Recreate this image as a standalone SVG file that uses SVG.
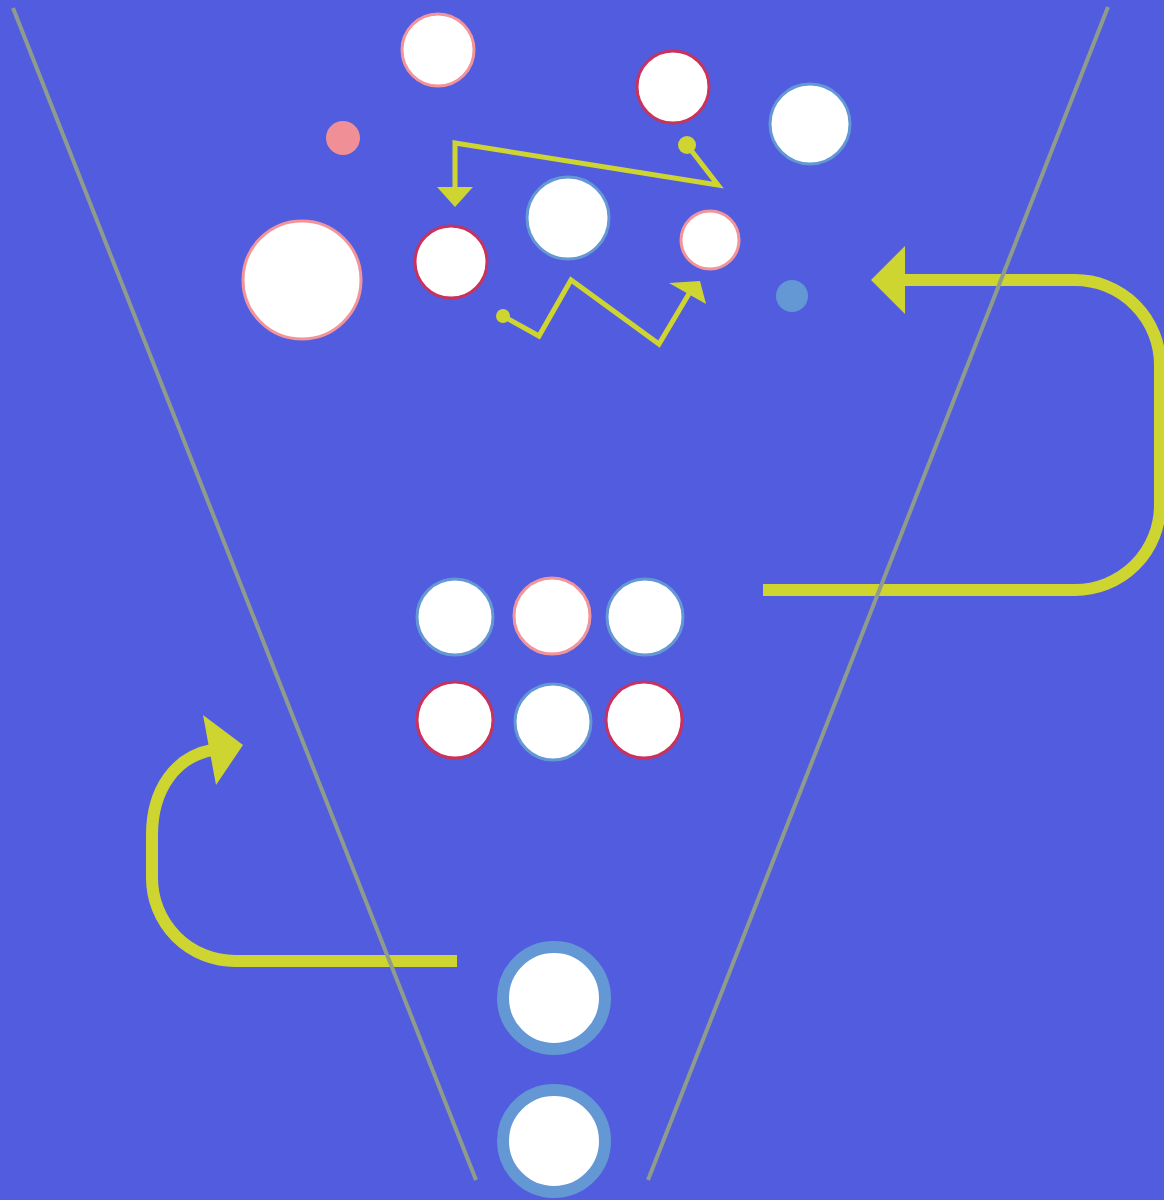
<svg xmlns="http://www.w3.org/2000/svg" width="1164" height="1200" viewBox="0 0 1164 1200">
<style>
.node{fill:#ffffff}
.pk{stroke:#F2949A;stroke-width:3}
.rd{stroke:#C8325C;stroke-width:3}
.bl{stroke:#6498D4;stroke-width:3}
.guide{stroke:#8F9C8C;stroke-width:4;fill:none}
.thin{stroke:#CFD530;stroke-width:5;fill:none;stroke-linejoin:miter}
.thick{stroke:#CFD530;stroke-width:12;fill:none}
.head{fill:#CFD530}
</style>
<rect x="0" y="0" width="1164" height="1200" fill="#525CDF"/>
<g id="connectors">
<circle class="head" cx="687" cy="145" r="9"/>
<polyline class="thin" points="687,145 718,185 455,143 455,190"/>
<polygon class="head" points="437,187 473,187 455,207"/>
<circle class="head" cx="503" cy="316" r="7"/>
<polyline class="thin" points="503,316 539,336 571,280 659,344 690,292"/>
<polygon class="head" points="669,283 700,281 706,304"/>
<path class="thick" d="M763,590 H1075 A85,85 0 0 0 1160,505 V365 A85,85 0 0 0 1075,280 H900"/>
<polygon class="head" points="871,280 905,246 905,314"/>
<path class="thick" d="M457,961 H235 A83,83 0 0 1 152,878 V835 C152,790 175,757 212,750"/>
<polygon class="head" points="243,745 203,715 216,785"/>
</g>
<g id="guides">
<line class="guide" x1="13" y1="8" x2="476" y2="1180"/>
<line class="guide" x1="1108" y1="7" x2="648" y2="1180"/>
</g>
<g id="n1"><circle class="node pk" cx="438" cy="50" r="36"/></g>
<g id="n2"><circle cx="343" cy="138" r="17" fill="#F09096"/></g>
<g id="n3"><circle class="node rd" cx="673" cy="87" r="36"/></g>
<g id="n4"><circle class="node bl" cx="810" cy="124" r="40"/></g>
<g id="n5"><circle class="node pk" cx="302" cy="280" r="59"/></g>
<g id="n6"><circle class="node rd" cx="451" cy="262" r="36"/></g>
<g id="n7"><circle class="node bl" cx="568" cy="218" r="41"/></g>
<g id="n8"><circle class="node pk" cx="710" cy="240" r="29"/></g>
<g id="n9"><circle cx="792" cy="296" r="16" fill="#6498D4"/></g>
<g id="g1"><circle class="node bl" cx="455" cy="617" r="38"/></g>
<g id="g2"><circle class="node pk" cx="552" cy="616" r="38"/></g>
<g id="g3"><circle class="node bl" cx="645" cy="617" r="38"/></g>
<g id="g4"><circle class="node rd" cx="455" cy="720" r="38"/></g>
<g id="g5"><circle class="node bl" cx="553" cy="722" r="38"/></g>
<g id="g6"><circle class="node rd" cx="644" cy="720" r="38"/></g>
<g id="b1"><circle class="node" cx="554" cy="998" r="51" stroke="#6498D4" stroke-width="12"/></g>
<g id="b2"><circle class="node" cx="554" cy="1141" r="51" stroke="#6498D4" stroke-width="12"/></g>
</svg>
